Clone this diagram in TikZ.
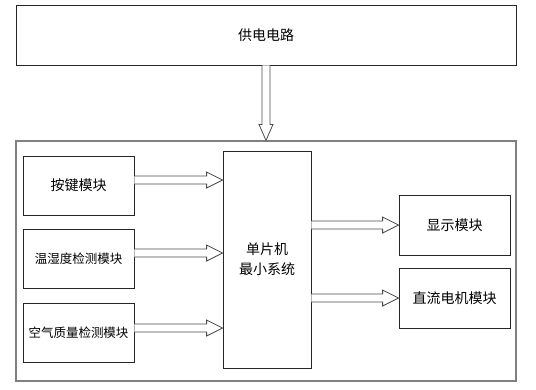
\documentclass[tikz,border=0pt]{standalone}
\usepackage{fontspec}
\setmainfont{Noto Sans CJK SC}
\usetikzlibrary{calc}
\tikzset{
  box/.style={draw=black!85, line width=0.8pt, inner sep=0pt, align=center, font=\fontsize{14}{20}\selectfont},
  fat/.style={draw=black!70, line width=0.8pt, fill=white, line join=miter},
}
\newcommand\myHArrow[2]{%
  \draw[fat] let \p1=(#1), \p2=(#2) in
    (\x1,\y1+4pt) -- (\x2-16pt,\y1+4pt) -- (\x2-16pt,\y1+8pt) -- (\x2,\y1)
    -- (\x2-16pt,\y1-8pt) -- (\x2-16pt,\y1-4pt) -- (\x1,\y1-4pt);}
\begin{document}
\begin{tikzpicture}[x=1pt,y=-1pt]
\useasboundingbox (0,0) rectangle (536,389);
% top power box
\node[box, minimum width=500pt, minimum height=60pt] (pwr) at (266,35) {供电电路};
% outer box
\node[draw=black!50, line width=1.2pt, minimum width=500pt, minimum height=240pt, inner sep=0pt] (outer) at (266,261) {};
% left modules
\node[box, minimum width=111pt, minimum height=59pt] (k1) at (78.5,185.5) {按键模块};
\node[box, minimum width=111pt, minimum height=59pt, font=\fontsize{12.5}{16}\selectfont] (k2) at (78.5,258.5) {温湿度检测模块};
\node[box, minimum width=111pt, minimum height=59pt, font=\fontsize{12.5}{16}\selectfont] (k3) at (78.5,333) {空气质量检测模块};
% MCU
\node[box, minimum width=88pt, minimum height=217pt, font=\fontsize{14}{20}\selectfont] (mcu) at (267,259.5) {单片机\\最小系统};
% right modules
\node[box, minimum width=111pt, minimum height=60pt] (disp) at (454.5,225) {显示模块};
\node[box, minimum width=111pt, minimum height=60pt] (motor) at (454.5,298) {直流电机模块};
% arrows
\coordinate (a1) at ($(k1.east)+(0,-5.5)$);
\coordinate (a2) at ($(k2.east)+(0,-5.5)$);
\coordinate (a3) at ($(k3.east)+(0,-5)$);
\myHArrow{a1}{mcu.west|-a1}
\myHArrow{a2}{mcu.west|-a2}
\myHArrow{a3}{mcu.west|-a3}
\coordinate (b1) at (mcu.east|-disp.west);
\coordinate (b2) at (mcu.east|-motor.west);
\myHArrow{b1}{disp.west}
\myHArrow{b2}{motor.west}
% vertical arrow
\draw[fat] let \p1=(pwr.south), \p2=(outer.north) in
  (\x1-4pt,\y1) -- (\x1-4pt,\y2+16pt) -- (\x1-7pt,\y2+16pt) -- (\x1,\y2)
  -- (\x1+7pt,\y2+16pt) -- (\x1+4pt,\y2+16pt) -- (\x1+4pt,\y1);
\end{tikzpicture}
\end{document}
